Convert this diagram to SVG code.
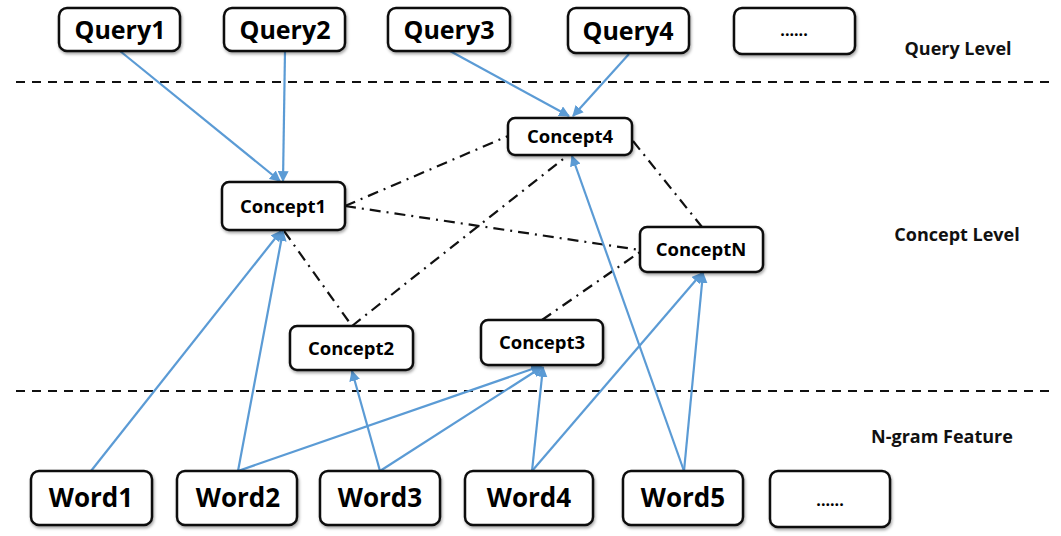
<svg xmlns="http://www.w3.org/2000/svg" width="1061" height="536" viewBox="0 0 1061 536">
<style>
.box{fill:#fff;stroke:#111;stroke-width:2.5;filter:url(#sh)}
.q{font-family:"Open Sans","Liberation Sans",sans-serif;font-weight:700;font-size:25px;fill:#000;text-anchor:middle}
.w{font-family:"Open Sans","Liberation Sans",sans-serif;font-weight:700;font-size:26px;fill:#000;text-anchor:middle}
.c{font-family:"Open Sans","Liberation Sans",sans-serif;font-weight:700;font-size:18.5px;fill:#000;text-anchor:middle}
.dots{font-family:"Open Sans","Liberation Sans",sans-serif;font-weight:700;font-size:16px;fill:#000;text-anchor:middle}
.lab{font-family:"Open Sans","Liberation Sans",sans-serif;font-weight:700;font-size:18px;fill:#111;text-anchor:middle}
.sep{stroke:#111;stroke-width:2;stroke-dasharray:9,7;fill:none}
.blue{stroke:#5B9BD5;stroke-width:2.2;fill:none;marker-end:url(#ah)}
.dd{stroke:#111;stroke-width:2.2;stroke-dasharray:11,6,2,6;fill:none}
</style>
<defs>
<filter id="sh" x="-10%" y="-10%" width="130%" height="140%">
<feDropShadow dx="1" dy="2" stdDeviation="1.5" flood-color="#000" flood-opacity="0.35"/>
</filter>
<marker id="ah" viewBox="0 0 10 10" refX="9" refY="5" markerWidth="5" markerHeight="5" orient="auto-start-reverse" markerUnits="strokeWidth">
<path d="M0,0 L10,5 L0,10 z" fill="#5B9BD5"/>
</marker>
</defs>
<rect width="1061" height="536" fill="#fff"/>
<g id="separators">
<line class="sep" x1="16" y1="82" x2="1056" y2="82"/>
<line class="sep" x1="16" y1="391" x2="1056" y2="391"/>
</g>
<g id="connectors">
<line class="dd" x1="345" y1="206" x2="508" y2="136"/>
<line class="dd" x1="345" y1="206" x2="640" y2="250"/>
<line class="dd" x1="284" y1="231" x2="352" y2="326"/>
<line class="dd" x1="352" y1="326" x2="567" y2="156"/>
<line class="dd" x1="633" y1="141" x2="702" y2="227"/>
<line class="dd" x1="542" y1="320" x2="640" y2="252"/>
<line class="blue" x1="120" y1="51" x2="280" y2="181"/>
<line class="blue" x1="285" y1="51" x2="283" y2="181"/>
<line class="blue" x1="450" y1="51" x2="569" y2="116"/>
<line class="blue" x1="629" y1="54" x2="573" y2="116"/>
<line class="blue" x1="91" y1="471" x2="281" y2="231"/>
<line class="blue" x1="238" y1="471" x2="283" y2="231"/>
<line class="blue" x1="238" y1="471" x2="541" y2="366"/>
<line class="blue" x1="380" y1="471" x2="352" y2="371"/>
<line class="blue" x1="380" y1="471" x2="542" y2="367"/>
<line class="blue" x1="532" y1="471" x2="543" y2="367"/>
<line class="blue" x1="532" y1="471" x2="702" y2="273"/>
<line class="blue" x1="684" y1="471" x2="572" y2="156"/>
<line class="blue" x1="684" y1="471" x2="703" y2="273"/>
</g>
<g id="query1"><rect class="box" x="59" y="8" width="121" height="43" rx="8"/><text class="q" x="120" y="39">Query1</text></g>
<g id="query2"><rect class="box" x="224" y="8" width="121" height="43" rx="8"/><text class="q" x="285" y="39">Query2</text></g>
<g id="query3"><rect class="box" x="388" y="8" width="122" height="43" rx="8"/><text class="q" x="449" y="39">Query3</text></g>
<g id="query4"><rect class="box" x="568" y="8" width="121" height="45" rx="8"/><text class="q" x="628" y="40">Query4</text></g>
<g id="query_more"><rect class="box" x="734" y="8" width="121" height="46" rx="8"/><text class="dots" x="794" y="36">......</text></g>
<g id="concept4"><rect class="box" x="508" y="118" width="124" height="37" rx="7"/><text class="c" x="570" y="143">Concept4</text></g>
<g id="concept1"><rect class="box" x="222" y="182" width="123" height="48" rx="7"/><text class="c" x="283" y="213">Concept1</text></g>
<g id="conceptN"><rect class="box" x="640" y="227" width="123" height="45" rx="7"/><text class="c" x="701" y="256">ConceptN</text></g>
<g id="concept2"><rect class="box" x="290" y="326" width="123" height="44" rx="7"/><text class="c" x="351" y="355">Concept2</text></g>
<g id="concept3"><rect class="box" x="481" y="320" width="122" height="45" rx="7"/><text class="c" x="542" y="349">Concept3</text></g>
<g id="word1"><rect class="box" x="31" y="471" width="121" height="54" rx="8"/><text class="w" x="91" y="507">Word1</text></g>
<g id="word2"><rect class="box" x="177" y="471" width="120" height="54" rx="8"/><text class="w" x="238" y="507">Word2</text></g>
<g id="word3"><rect class="box" x="320" y="471" width="120" height="54" rx="8"/><text class="w" x="380" y="507">Word3</text></g>
<g id="word4"><rect class="box" x="465" y="471" width="128" height="54" rx="8"/><text class="w" x="529" y="507">Word4</text></g>
<g id="word5"><rect class="box" x="623" y="471" width="120" height="54" rx="8"/><text class="w" x="683" y="507">Word5</text></g>
<g id="word_more"><rect class="box" x="770" y="471" width="120" height="56" rx="8"/><text class="dots" x="830" y="506">......</text></g>
<g id="labels">
<text class="lab" x="958" y="55">Query Level</text>
<text class="lab" x="957" y="241">Concept Level</text>
<text class="lab" x="942" y="443">N-gram Feature</text>
</g>
</svg>
